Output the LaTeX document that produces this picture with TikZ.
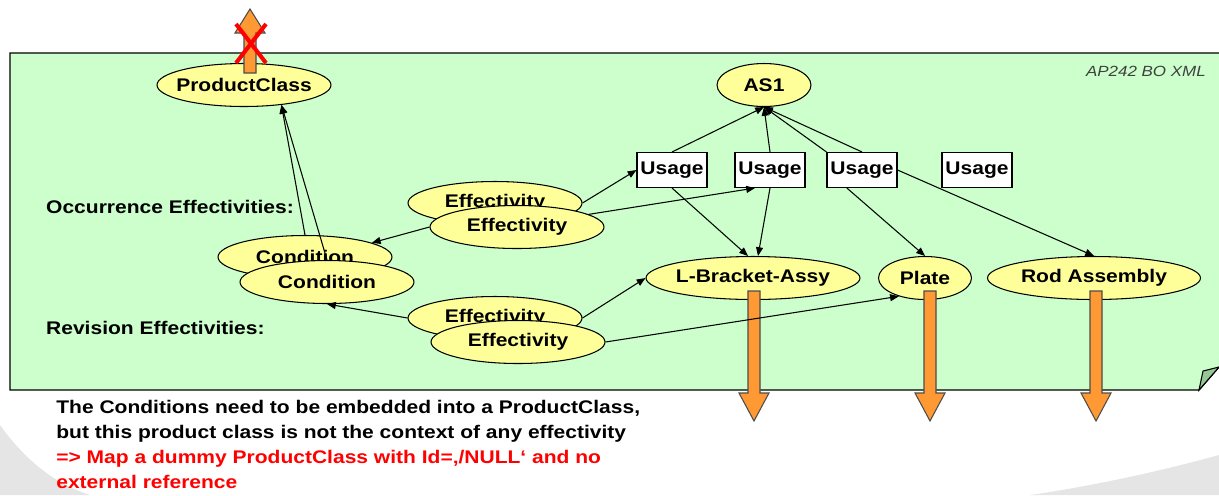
\documentclass[tikz,border=0pt]{standalone}
\usepackage{fontspec}
\setmainfont{Liberation Sans}[FakeStretch=1.15]
\usetikzlibrary{arrows.meta, shapes.geometric}
\definecolor{panelGreen}{RGB}{204,255,204}
\definecolor{foldGreen}{RGB}{150,200,150}
\definecolor{nodeYellow}{RGB}{255,255,153}
\definecolor{bigOrange}{RGB}{255,153,51}
\newcommand{\ctr}[1]{\makebox[0pt]{#1}}

\begin{document}
\begin{tikzpicture}[x=0.02cm, y=-0.02cm, >={Triangle[length=5pt,width=4pt]}, font=\bfseries\fontsize{10.4}{12.5}\selectfont,
  ell/.style={ellipse, draw, line width=0.6pt, fill=nodeYellow, inner sep=0pt, minimum width=#1, minimum height=0.86cm},
  ell/.default=3.48cm,
  usage/.style={draw, fill=white, line width=0.6pt, minimum width=1.4cm, minimum height=0.7cm, inner sep=0pt},
  link/.style={->, line width=0.6pt},
  bigarrow/.style={draw=black!70, line width=0.6pt, fill=bigOrange}]
  \useasboundingbox (0,0) rectangle (1219,495);
  % slide background
  \fill[black!10] (0,425) .. controls (25,460) and (55,484) .. (90,495) -- (0,495) -- cycle;
  \fill[black!10] (1219,455) .. controls (1150,474) and (1085,487) .. (1030,495) -- (1219,495) -- cycle;
  % panel
  \fill[panelGreen] (10,53) -- (1219,53) -- (1219,367) -- (1199,390) -- (10,390) -- cycle;
  \draw[line width=0.8pt] (1219,53) -- (10,53) -- (10,390) -- (1199,390) -- (1219,367);
  \draw[line width=0.6pt, fill=foldGreen] (1199,390) -- (1203,371) -- (1219,367) -- cycle;
  \node[font=\mdseries\itshape\fontsize{8.4}{10}\selectfont, text=black!75, anchor=east] (tag) at (1212,71) {AP242 BO XML};
  % labels
  \node[anchor=west] (occ) at (40,207) {Occurrence Effectivities:};
  \node[anchor=west] (rev) at (40,328) {Revision Effectivities:};
  % nodes
  \node[ell] (pc) at (244,85) {\ctr{ProductClass}};
  \node[ell=1.88cm] (as1) at (764,85) {\ctr{AS1}};
  \foreach \x/\n in {672/1, 770/2, 862/3, 977/4}
    \node[usage] (u\n) at (\x,170) {Usage};
  \node[ell] (effOb) at (495,203) {\ctr{Effectivity}};
  \node[ell] (effOf) at (517,227) {\ctr{Effectivity}};
  \node[ell] (condB) at (305,257) {\ctr{Condition}};
  \node[ell] (condF) at (327,282) {\ctr{Condition}};
  \node[ell] (effRb) at (495,318) {\ctr{Effectivity}};
  \node[ell] (effRf) at (518,342) {\ctr{Effectivity}};
  \node[ell=4.28cm] (lb) at (753,278) {\ctr{L-Bracket-Assy}};
  \node[ell=1.86cm] (plate) at (925,278) {\ctr{Plate}};
  \node[ell=4.26cm] (rod) at (1094,278) {\ctr{Rod Assembly}};
  % orange arrows
  \draw[bigarrow] (244,73) -- (256,73) -- (256,33) -- (265,33) -- (250,9) -- (235,33) -- (244,33) -- cycle;
  \draw[red, line width=2.3pt] (236,24) -- (266,63) (266,24) -- (236,63);
  \foreach \x in {754, 930, 1096}
    \draw[bigarrow] (\x-6,291) -- (\x+6,291) -- (\x+6,393) -- (\x+15,393) -- (\x,421) -- (\x-15,393) -- (\x-6,393) -- cycle;
  % connectors
  \draw[link] (condB.north) -- (pc.-28);
  \draw[link] (condF.north) -- (pc.-28);
  \draw[link] (effOf.west) -- (condB.12);
  \draw[link] (effRb.west) -- (condF.south);
  \draw[link] (effOb.east) -- (u1.west);
  \draw[link] (effOf.10) -- ([xshift=-0.3cm]u2.south);
  \foreach \n in {u1, u2, u3}
    \draw[link] (\n.north) -- (as1.south);
  \draw[link] (u3.north west) -- (as1.south);
  \draw[link] (u1.south) -- ([xshift=-0.1cm]lb.north);
  \draw[link] (u2.south) -- ([xshift=0.1cm]lb.north);
  \draw[link] (u3.230) -- (plate.north);
  \draw[link] (u3.east) -- (rod.north);
  \draw[link] (effRb.east) -- (lb.west);
  \draw[link] (effRf.east) -- (plate.215);
  % note
  \node[anchor=north west, align=left, inner sep=0pt, font=\bfseries\fontsize{10.4}{14.3}\selectfont] (note) at (56,400)
    {The Conditions need to be embedded into a ProductClass,\\
     but this product class is not the context of any effectivity\\
     \textcolor{red}{=> Map a dummy ProductClass with Id=‚/NULL‘ and no}\\
     \textcolor{red}{external reference}};
\end{tikzpicture}
\end{document}
